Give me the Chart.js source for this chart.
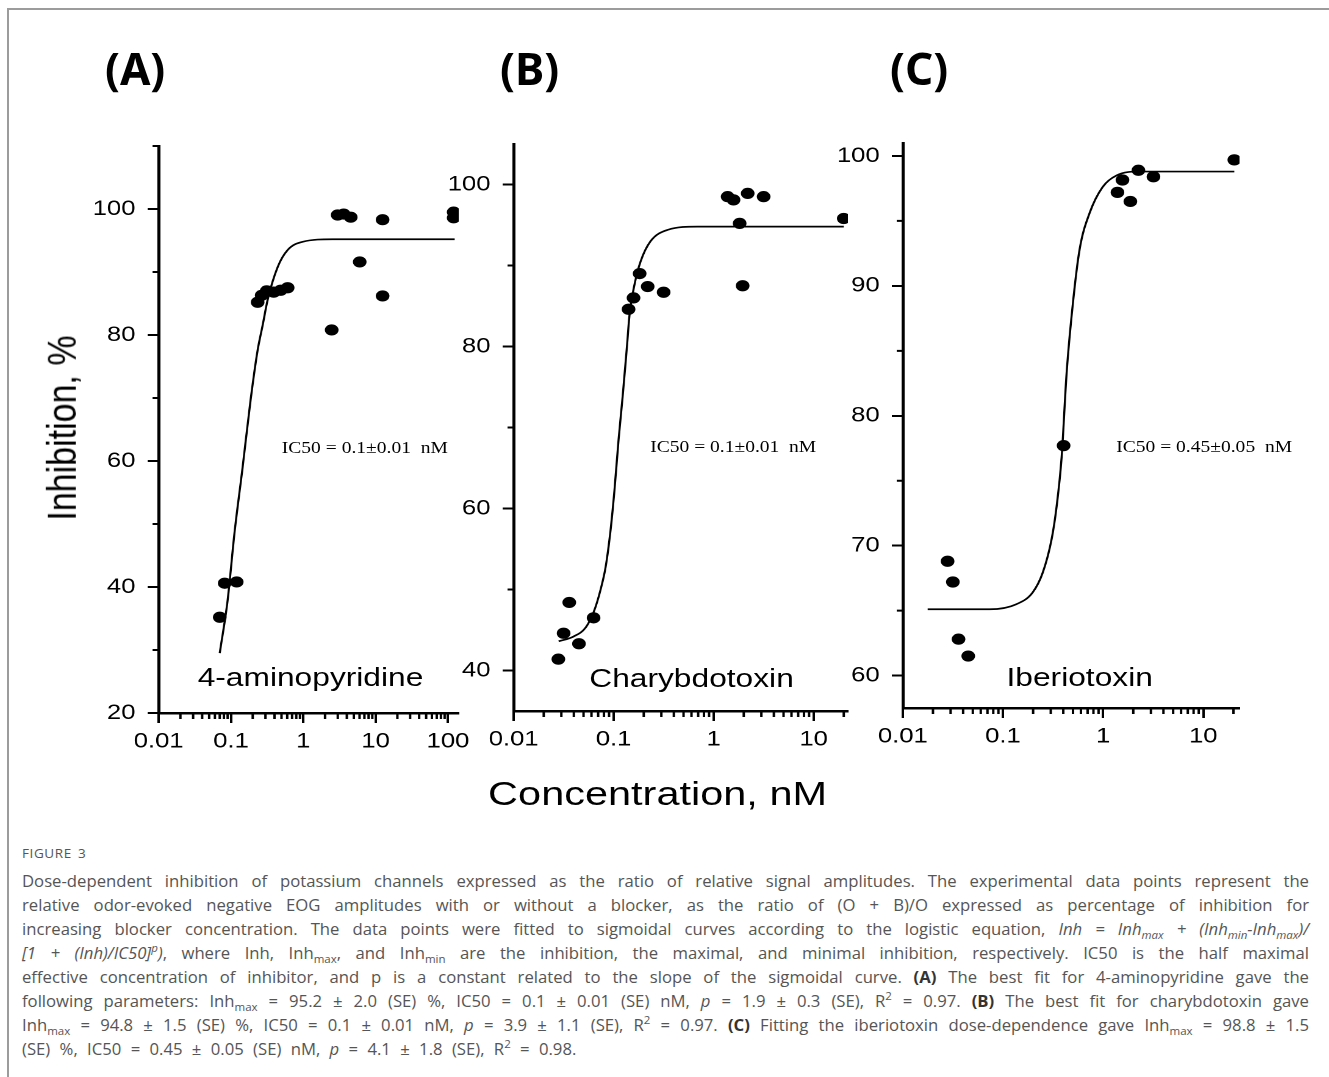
<!DOCTYPE html>
<html>
<head>
<meta charset="utf-8">
<title>Figure 3 - potassium channel inhibition</title>
<script src="https://cdn.jsdelivr.net/npm/chart.js@4.4.1/dist/chart.umd.min.js"></script>
<style>
  html, body { margin: 0; padding: 0; background: #fff; }
  body { width: 1329px; height: 1077px; position: relative; overflow: hidden; font-family: "Liberation Sans", Arial, sans-serif; }
  .frame { position: absolute; left: 7px; top: 8px; width: 1400px; height: 1200px; border: 2px solid #9c9c9c; }
  /* the figure is horizontally stretched in the original, so draw it narrow and stretch it */
  .fig { position: absolute; left: 0; top: 0; width: 1090px; height: 830px; transform: scaleX(1.22); transform-origin: 0 0; }
  .panel { position: absolute; }
  .lbl { position: absolute; white-space: nowrap; line-height: 1; color: #000; }
  .drug { font-size: 26px; transform: translateY(-50%); }
  .ic50 { font-family: "Liberation Serif", "Times New Roman", serif; font-size: 16px; transform: translateY(-50%); }
  .axt { font-size: 34px; transform: translate(-50%, -50%); }
  .axt.rot { transform: translate(-50%, -50%) rotate(-90deg); }
  .title { position: absolute; font-family: "Noto Sans", sans-serif; font-weight: 700; font-size: 44px; line-height: 1; }
  .cap { position: absolute; left: 22px; top: 841px; width: 1287px; font-family: "Open Sans", sans-serif; color: #555; font-size: 16.7px; line-height: 24px; word-spacing: 2px; }
  .cap .fl { font-size: 13.5px; letter-spacing: 0.6px; margin-bottom: 4px; }
  .cap .ln { white-space: nowrap; text-align: justify; text-align-last: justify; }
  .cap .ln.last { text-align-last: left; word-spacing: 5px; }
  .cap sub, .cap sup { font-size: 11.5px; line-height: 0; }
  .cap b { color: #333; }
</style>
</head>
<body>
<div class="frame"></div>

<div class="fig">
  <div class="panel" style="left:60px; top:116px; width:336px; height:657px;"><canvas id="chartA"></canvas></div>
  <div class="panel" style="left:351px; top:114px; width:364px; height:657px;"><canvas id="chartB"></canvas></div>
  <div class="panel" style="left:670px; top:113px; width:366px; height:655px;"><canvas id="chartC"></canvas></div>

  <div class="lbl axt rot" style="left:50px; top:428px;">Inhibition, %</div>
  <div class="lbl axt" style="left:539px; top:793px;">Concentration, nM</div>

  <div class="lbl drug" style="left:162px; top:677px;">4-aminopyridine</div>
  <div class="lbl drug" style="left:483px; top:678px;">Charybdotoxin</div>
  <div class="lbl drug" style="left:825px; top:677px;">Iberiotoxin</div>

  <div class="lbl ic50" style="left:231px; top:448px;">IC50 = 0.1±0.01&nbsp; nM</div>
  <div class="lbl ic50" style="left:533px; top:447px;">IC50 = 0.1±0.01&nbsp; nM</div>
  <div class="lbl ic50" style="left:915px; top:447px;">IC50 = 0.45±0.05&nbsp; nM</div>
</div>

<div class="title" style="left:105px; top:46px;">(A)</div>
<div class="title" style="left:500px; top:46px;">(B)</div>
<div class="title" style="left:890px; top:46px;">(C)</div>

<div class="cap">
  <div class="fl">FIGURE 3</div>
  <div class="ln">Dose-dependent inhibition of potassium channels expressed as the ratio of relative signal amplitudes. The experimental data points represent the</div>
  <div class="ln">relative odor-evoked negative EOG amplitudes with or without a blocker, as the ratio of (O + B)/O expressed as percentage of inhibition for</div>
  <div class="ln">increasing blocker concentration. The data points were fitted to sigmoidal curves according to the logistic equation, <i>Inh = Inh<sub>max</sub> + (Inh<sub>min</sub>-Inh<sub>max</sub>)/</i></div>
  <div class="ln"><i>[1 + (Inh)/IC50]<sup>p</sup>)</i>, where Inh, Inh<sub>max</sub>, and Inh<sub>min</sub> are the inhibition, the maximal, and minimal inhibition, respectively. IC50 is the half maximal</div>
  <div class="ln">effective concentration of inhibitor, and p is a constant related to the slope of the sigmoidal curve. <b>(A)</b> The best fit for 4-aminopyridine gave the</div>
  <div class="ln">following parameters: Inh<sub>max</sub> = 95.2 ± 2.0 (SE) %, IC50 = 0.1 ± 0.01 (SE) nM, <i>p</i> = 1.9 ± 0.3 (SE), R<sup>2</sup> = 0.97. <b>(B)</b> The best fit for charybdotoxin gave</div>
  <div class="ln">Inh<sub>max</sub> = 94.8 ± 1.5 (SE) %, IC50 = 0.1 ± 0.01 nM, <i>p</i> = 3.9 ± 1.1 (SE), R<sup>2</sup> = 0.97. <b>(C)</b> Fitting the iberiotoxin dose-dependence gave Inh<sub>max</sub> = 98.8 ± 1.5</div>
  <div class="ln last">(SE) %, IC50 = 0.45 ± 0.05 (SE) nM, <i>p</i> = 4.1 ± 1.8 (SE), R<sup>2</sup> = 0.98.</div>
</div>

<script>
// log x axis, shared by all three panels
const xTickValues = [0.01, 0.1, 1, 10, 100];
const xTickLabels = ['0.01', '0.1', '1', '10', '100'];
const xMinorSteps = [2, 3, 4, 5, 6, 7, 8, 9];

// (A) 4-aminopyridine
const aConc  = [0.070, 0.082, 0.120, 0.234, 0.266, 0.312, 0.390, 0.487, 0.608, 2.47, 2.99, 3.62, 4.53, 6.03, 12.5, 12.5, 120, 120];
const aInhib = [35.2, 40.6, 40.8, 85.2, 86.3, 87.0, 86.8, 87.1, 87.5, 80.8, 99.05, 99.2, 98.7, 91.6, 98.3, 86.2, 99.5, 98.6];
const aFitConc  = [0.070, 0.090, 0.112, 0.145, 0.187, 0.234, 0.274, 0.322, 0.443, 0.608, 0.98, 2.55, 124];
const aFitInhib = [29.5, 37.9, 48.6, 59.0, 69.7, 77.6, 81.5, 85.6, 90.8, 93.5, 94.8, 95.2, 95.2];
const aYTicks = [20, 40, 60, 80, 100];
const aYMinor = [30, 50, 70, 90, 110];

// (B) charybdotoxin
const bConc  = [0.028, 0.0316, 0.036, 0.045, 0.063, 0.141, 0.158, 0.182, 0.219, 0.316, 1.38, 1.58, 1.82, 1.95, 2.19, 3.16, 20];
const bInhib = [41.4, 44.6, 48.4, 43.3, 46.5, 84.6, 86.0, 89.0, 87.4, 86.7, 98.5, 98.1, 95.2, 87.5, 98.9, 98.5, 95.8];
const bFitConc  = [0.0282, 0.0398, 0.0525, 0.0631, 0.0741, 0.0832, 0.0933, 0.102, 0.112, 0.123, 0.135, 0.145, 0.162, 0.186, 0.234, 0.347, 0.69, 20];
const bFitInhib = [43.6, 44.2, 45.3, 47.2, 50.0, 52.8, 57.4, 62.3, 68.5, 73.8, 79.6, 84.2, 87.7, 90.5, 93.0, 94.4, 94.8, 94.8];
const bYTicks = [40, 60, 80, 100];
const bYMinor = [50, 70, 90];

// (C) iberiotoxin
const cConc  = [0.028, 0.0316, 0.036, 0.045, 0.403, 1.39, 1.56, 1.87, 2.25, 3.18, 20.4];
const cInhib = [68.8, 67.2, 62.8, 61.5, 77.7, 97.2, 98.15, 96.5, 98.9, 98.4, 99.7];
const cFitConc  = [0.0177, 0.0736, 0.137, 0.198, 0.249, 0.306, 0.343, 0.385, 0.432, 0.495, 0.582, 0.732, 0.986, 1.36, 2.31, 20.4];
const cFitInhib = [65.1, 65.1, 65.5, 66.4, 67.9, 70.5, 73.0, 76.8, 83.3, 88.4, 92.8, 95.6, 97.6, 98.5, 98.8, 98.8];
const cYTicks = [60, 70, 80, 90, 100];
const cYMinor = [65, 75, 85, 95];

const TICK_FONT = { family: '"Liberation Sans", Arial, sans-serif', size: 21 };

// short unlabeled ticks, placed through the scales
const minorTicks = {
    id: 'minorTicks',
    afterDraw(chart, args, opts) {
        const { ctx } = chart;
        const x = chart.scales.x, y = chart.scales.y;
        ctx.save();
        ctx.strokeStyle = '#000';
        ctx.lineWidth = 2;
        ctx.beginPath();
        opts.x.forEach(v => {
            const px = x.getPixelForValue(v);
            ctx.moveTo(px, x.top);
            ctx.lineTo(px, x.top + 6);
        });
        opts.y.forEach(v => {
            const py = y.getPixelForValue(v);
            ctx.moveTo(y.right, py);
            ctx.lineTo(y.right - 5, py);
        });
        ctx.stroke();
        ctx.restore();
    },
};

function toPoints(xs, ys) {
    return xs.map((x, i) => ({ x, y: ys[i] }));
}

function makePanel(id, conc, inhib, fitConc, fitInhib, xMax, yMin, yMax, yTicks, yMinor) {
    const xMinor = [];
    xTickValues.forEach(d => xMinorSteps.forEach(m => { if (m * d <= xMax) xMinor.push(m * d); }));

    new Chart(document.getElementById(id), {
        type: 'scatter',
        data: {
            datasets: [
                {
                    data: toPoints(conc, inhib),
                    pointRadius: 5.6,
                    pointBackgroundColor: '#000',
                    pointBorderWidth: 0,
                    showLine: false,
                },
                {
                    data: toPoints(fitConc, fitInhib),
                    showLine: true,
                    pointRadius: 0,
                    borderColor: '#000',
                    borderWidth: 1.7,
                    cubicInterpolationMode: 'monotone',
                    fill: false,
                },
            ],
        },
        options: {
            responsive: true,
            maintainAspectRatio: false,
            animation: false,
            devicePixelRatio: 2,
            events: [],
            // top padding larger than the y-axis label overhang, so the plot top is fixed
            layout: { padding: { top: 30, right: 20, left: 0, bottom: 0 } },
            plugins: {
                legend: { display: false },
                tooltip: { enabled: false },
                minorTicks: { x: xMinor, y: yMinor },
            },
            scales: {
                x: {
                    type: 'logarithmic',
                    min: 0.01,
                    max: xMax,
                    bounds: 'data',
                    afterBuildTicks: s => { s.ticks = xTickValues.filter(v => v <= xMax).map(v => ({ value: v })); },
                    afterFit: s => { s.height = 60; },
                    ticks: {
                        autoSkip: false, maxRotation: 0, padding: 6, color: '#000', font: TICK_FONT,
                        callback: v => xTickLabels[xTickValues.indexOf(v)],
                    },
                    grid: { display: true, drawOnChartArea: false, drawTicks: true, tickLength: 10, tickWidth: 2, tickColor: '#000' },
                    border: { display: true, color: '#000', width: 2.5 },
                },
                y: {
                    type: 'linear',
                    min: yMin,
                    max: yMax,
                    bounds: 'data',
                    afterBuildTicks: s => { s.ticks = yTicks.map(v => ({ value: v })); },
                    afterFit: s => { s.width = 70; },
                    ticks: { autoSkip: false, padding: 10, color: '#000', font: TICK_FONT, callback: v => String(v) },
                    grid: { display: true, drawOnChartArea: false, drawTicks: true, tickLength: 9, tickWidth: 2, tickColor: '#000' },
                    border: { display: true, color: '#000', width: 2.5 },
                },
            },
        },
        plugins: [minorTicks],
    });
}

makePanel('chartA', aConc, aInhib, aFitConc, aFitInhib, 141, 20, 110, aYTicks, aYMinor);
makePanel('chartB', bConc, bInhib, bFitConc, bFitInhib, 22, 35, 105, bYTicks, bYMinor);
makePanel('chartC', cConc, cInhib, cFitConc, cFitInhib, 23, 57.5, 101, cYTicks, cYMinor);
</script>
</body>
</html>
